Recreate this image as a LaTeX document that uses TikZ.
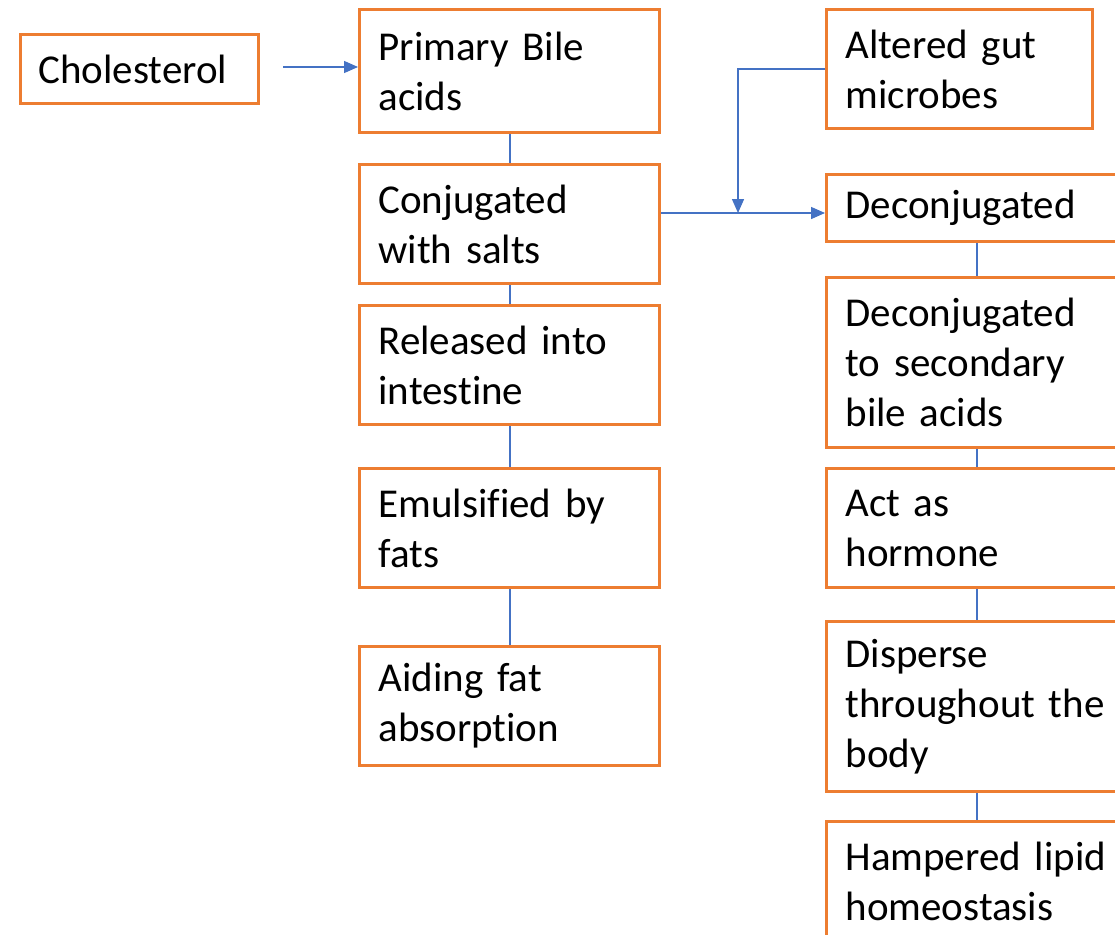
\documentclass[tikz,border=0pt]{standalone}
\usepackage{fontspec}
\setmainfont{Carlito}[Ligatures=NoCommon]
\usetikzlibrary{arrows.meta}
\definecolor{boxorange}{HTML}{ED7D31}
\definecolor{linkblue}{HTML}{4472C4}
\begin{document}
\begin{tikzpicture}[x=1pt,y=-1pt,
  stepbox/.style={draw=boxorange, line width=3pt, fill=white, rectangle,
    inner xsep=19pt, inner ysep=0pt, text width=262pt, align=left, anchor=north west,
    font=\fontsize{41}{50}\selectfont},
  link/.style={draw=linkblue, line width=2pt},
  arr/.style={draw=linkblue, line width=1.4pt, -{Triangle[length=14pt,width=12pt]}}
]
\path[use as bounding box, clip] (0,0) rectangle (1115,934);
\fill[white] (0,0) rectangle (1115,934);

% left column
\node[stepbox, text width=202pt, inner xsep=18pt, minimum height=69pt] (chol) at (19,33) {Cholesterol};
\node[stepbox, minimum height=123pt] (pba) at (358,8) {Primary Bile\\acids};
\node[stepbox, minimum height=119pt] (cws) at (358,163) {Conjugated\\with salts};
\node[stepbox, minimum height=119pt] (rel) at (358,304) {Released into\\intestine};
\node[stepbox, minimum height=119pt] (emu) at (358,467) {Emulsified by\\fats};
\node[stepbox, minimum height=119pt] (aid) at (358,645) {Aiding fat\\absorption};

% right column
\node[stepbox, text width=228pt, minimum height=119pt] (agm) at (825,8) {Altered gut\\microbes};
\node[stepbox, minimum height=67pt] (dec) at (825,173) {Deconjugated};
\node[stepbox, minimum height=170pt] (dsb) at (825,276) {Deconjugated\\to secondary\\bile acids};
\node[stepbox, minimum height=119pt] (hor) at (825,467) {Act as\\hormone};
\node[stepbox, minimum height=170pt] (dis) at (825,620) {Disperse\\throughout the\\body};
\node[stepbox, minimum height=119pt] (ham) at (825,820) {Hampered lipid\\homeostasis};

% vertical links
\draw[link] (pba.south) -- (cws.north);
\draw[link] (cws.south) -- (rel.north);
\draw[link] (rel.south) -- (emu.north);
\draw[link] (emu.south) -- (aid.north);
\draw[link] (dec.south) -- (dsb.north);
\draw[link] (dsb.south) -- (hor.north);
\draw[link] (hor.south) -- (dis.north);
\draw[link] (dis.south) -- (ham.north);

% arrows
\coordinate (cstart) at (283,67);
\draw[arr] (cstart) -- (pba.west |- cstart);
\coordinate (mrow) at (0,213);
\coordinate (junc) at (738,213);
\draw[arr] (cws.east |- mrow) -- (dec.west |- mrow);
\draw[arr] (agm.west) -- (junc |- agm.west) -- (junc);
\end{tikzpicture}
\end{document}
